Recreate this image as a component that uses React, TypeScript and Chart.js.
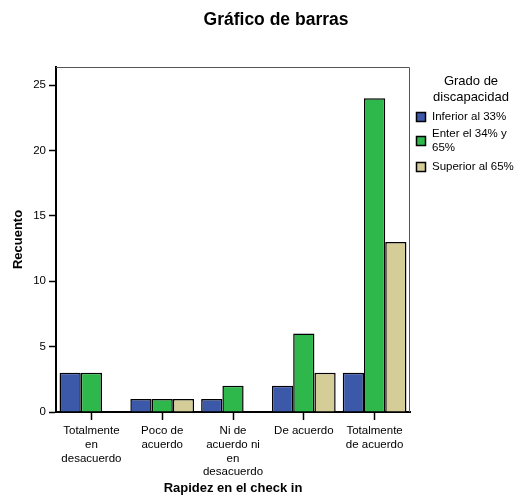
import React, { useEffect, useRef } from 'react';
import { Chart, registerables } from 'chart.js';

Chart.register(...registerables);

const chartTitle = 'Gráfico de barras';
const xAxisTitle = 'Rapidez en el check in';
const yAxisTitle = 'Recuento';
const legendTitle = ['Grado de', 'discapacidad'];
const categories: string[][] = [
  ['Totalmente', 'en', 'desacuerdo'],
  ['Poco de', 'acuerdo'],
  ['Ni de', 'acuerdo ni', 'en', 'desacuerdo'],
  ['De acuerdo'],
  ['Totalmente', 'de acuerdo'],
];
const seriesNames = ['Inferior al 33%', 'Enter el 34% y 65%', 'Superior al 65%'];
const inferior = [3, 1, 1, 2, 3];
const entre = [3, 1, 2, 6, 24];
const superior = [0, 1, 0, 3, 13];
const yTicks = [0, 5, 10, 15, 20, 25];
const seriesColors = ['#3C58A8', '#2EB84B', '#D5CD98'];

const FONT = "'Liberation Sans', Arial, Helvetica, sans-serif";

function wrap(ctx: CanvasRenderingContext2D, text: string, maxW: number): string[] {
  const words = text.split(' ');
  const lines: string[] = [];
  let cur = '';
  for (const w of words) {
    const t = cur ? cur + ' ' + w : w;
    if (ctx.measureText(t).width > maxW && cur) {
      lines.push(cur);
      cur = w;
    } else cur = t;
  }
  if (cur) lines.push(cur);
  return lines;
}

const decorPlugin = {
  id: 'decor',
  afterDraw(chart: any) {
    const ctx: CanvasRenderingContext2D = chart.ctx;
    const a = chart.chartArea;
    ctx.save();
    // frame top/right
    ctx.strokeStyle = '#555';
    ctx.lineWidth = 1;
    ctx.beginPath();
    ctx.moveTo(a.left, a.top + 0.5);
    ctx.lineTo(a.right - 0.5, a.top + 0.5);
    ctx.lineTo(a.right - 0.5, a.bottom);
    ctx.stroke();

    // title
    ctx.fillStyle = '#000';
    ctx.font = `bold 17.5px ${FONT}`;
    ctx.textAlign = 'center';
    ctx.textBaseline = 'middle';
    ctx.fillText(chartTitle, 276, 20);

    // legend title
    ctx.font = `13px ${FONT}`;
    legendTitle.forEach((t, i) => ctx.fillText(t, 471, 81 + i * 16));

    // legend items
    ctx.font = `11.5px ${FONT}`;
    ctx.textAlign = 'left';
    const centers = [117, 141, 167];
    chart.data.datasets.forEach((ds: any, i: number) => {
      const cy = centers[i];
      ctx.fillStyle = ds.backgroundColor;
      ctx.fillRect(416, cy - 5, 10, 10);
      ctx.strokeStyle = '#000';
      ctx.lineWidth = 1.5;
      ctx.strokeRect(416.5, cy - 4.5, 9, 9);
      const lines = wrap(ctx, ds.label, 84);
      const lh = 14;
      const start = cy - ((lines.length - 1) * lh) / 2;
      ctx.fillStyle = '#000';
      lines.forEach((l, j) => ctx.fillText(l, 432, start + j * lh));
    });
    ctx.restore();
  },
};

export default function App() {
  const ref = useRef<HTMLCanvasElement>(null);
  useEffect(() => {
    const values = [inferior, entre, superior];
    const chart = new Chart(ref.current!, {
      type: 'bar',
      data: {
        labels: categories,
        datasets: seriesNames.map((name, i) => ({
          label: name,
          data: values[i],
          backgroundColor: seriesColors[i],
          borderColor: '#000',
          borderWidth: 1.5,
          categoryPercentage: 0.9,
          barPercentage: 1,
        })),
      },
      options: {
        animation: false,
        responsive: false,
        maintainAspectRatio: false,
        layout: { padding: { top: 67, right: 107, left: 0, bottom: 0 } },
        plugins: {
          legend: { display: false },
          title: { display: false },
          tooltip: { enabled: false },
        },
        scales: {
          x: {
            offset: true,
            grid: {
              drawOnChartArea: false,
              drawTicks: true,
              tickLength: 8,
              tickColor: '#000',
              tickWidth: 1.5,
              offset: false,
            },
            border: { display: true, color: '#000', width: 2 },
            ticks: {
              color: '#000',
              font: { family: FONT, size: 11.5 },
              padding: 4,
              maxRotation: 0,
              autoSkip: false,
            },
            title: {
              display: true,
              text: xAxisTitle,
              color: '#000',
              font: { family: FONT, size: 13, weight: 'bold' },
              padding: { top: 0, bottom: 2 },
            },
            afterFit(scale: any) {
              scale.height = 86;
            },
          },
          y: {
            min: 0,
            max: 26.4,
            grid: {
              drawOnChartArea: false,
              drawTicks: true,
              tickLength: 7,
              tickColor: '#000',
              tickWidth: 1.5,
            },
            border: { display: true, color: '#000', width: 2 },
            ticks: {
              color: '#000',
              font: { family: FONT, size: 11.5 },
              padding: 3,
            },
            afterBuildTicks(scale: any) {
              scale.ticks = yTicks.map((v) => ({ value: v }));
            },
            title: {
              display: true,
              text: yAxisTitle,
              color: '#000',
              font: { family: FONT, size: 13, weight: 'bold' },
              padding: { top: 11, bottom: 0 },
            },
            afterFit(scale: any) {
              scale.width = 56;
            },
          },
        },
      } as any,
      plugins: [decorPlugin],
    });
    return () => chart.destroy();
  }, []);
  return (
    <div style={{ position: 'fixed', left: 0, top: 0, width: 517, height: 498, background: '#fff' }}>
      <canvas ref={ref} width={517} height={498} style={{ width: 517, height: 498, display: 'block' }} />
    </div>
  );
}
